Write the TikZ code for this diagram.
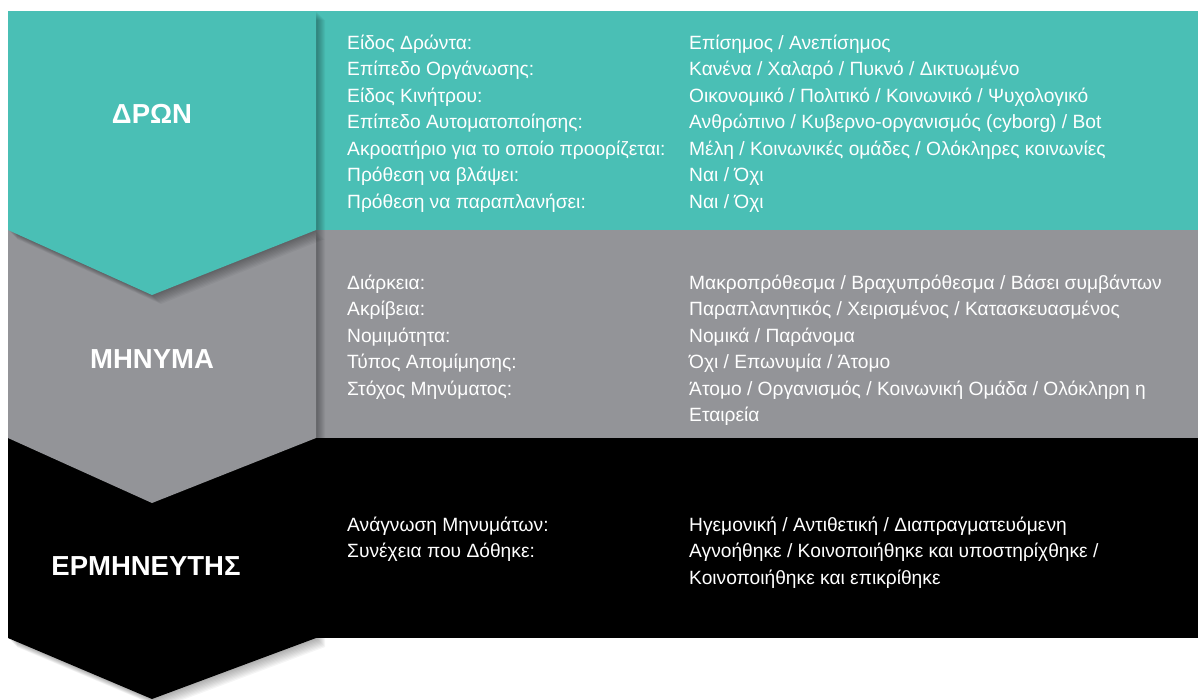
\documentclass[tikz,border=0pt]{standalone}
\usepackage{fontspec}
\setmainfont{Liberation Sans}
\usepackage{xcolor}
\usetikzlibrary{positioning, calc}

\definecolor{actorteal}{HTML}{4ABFB5}
\definecolor{msggrey}{HTML}{939498}
\definecolor{readerblack}{HTML}{000000}

\tikzset{
  bandtitle/.style={text=white, font=\fontsize{27.5}{32}\selectfont\bfseries, anchor=base, inner sep=0pt},
  rowkey/.style={text=white, font=\fontsize{19.2}{26.5}\selectfont, anchor=base west, inner sep=0pt},
  rowval/.style={rowkey},
  softshadow/.style={black, opacity=0.04},
}

\begin{document}
\begin{tikzpicture}[x=1pt, y=-1pt]
  \useasboundingbox (0,0) rectangle (1198,699);

  % right panels
  \fill[actorteal] (316,11) rectangle (1198,230);
  \fill[msggrey] (316,230) rectangle (1198,438);
  \fill[readerblack] (316,438) rectangle (1198,638);

  % chevrons, bottom one first
  \foreach \s in {1,...,9}
    \fill[softshadow, shift={(\s,\s)}] (8,438) -- (316,438) -- (316,638) -- (152,699) -- (8,638) -- cycle;
  \fill[readerblack] (8,438) -- (316,438) -- (316,638) -- (152,699) -- (8,638) -- cycle;

  \foreach \s in {1,...,9}
    \fill[softshadow, shift={(\s,\s)}] (8,230) -- (316,230) -- (316,438) -- (152,503) -- (8,438) -- cycle;
  \fill[msggrey] (8,230) -- (316,230) -- (316,438) -- (152,503) -- (8,438) -- cycle;

  \foreach \s in {1,...,9}
    \fill[softshadow, shift={(\s,\s)}] (8,11) -- (316,11) -- (316,230) -- (152,295) -- (8,230) -- cycle;
  \fill[actorteal] (8,11) -- (316,11) -- (316,230) -- (152,295) -- (8,230) -- cycle;

  % titles
  \node[bandtitle] (actor) at (152,123) {ΔΡΩΝ};
  \node[bandtitle] (message) at (152,368) {ΜΗΝΥΜΑ};
  \node[bandtitle] (reader) at (146,575) {ΕΡΜΗΝΕΥΤΗΣ};

  % actor rows
  \node[rowkey] (actork1) at (347,49.3) {Είδος Δρώντα:};
  \node[rowkey] (actork2) at (347,75.8) {Επίπεδο Οργάνωσης:};
  \node[rowkey] (actork3) at (347,102.3) {Είδος Κινήτρου:};
  \node[rowkey] (actork4) at (347,128.8) {Επίπεδο Αυτοματοποίησης:};
  \node[rowkey] (actork5) at (347,155.3) {Ακροατήριο για το οποίο προορίζεται:};
  \node[rowkey] (actork6) at (347,181.8) {Πρόθεση να βλάψει:};
  \node[rowkey] (actork7) at (347,208.3) {Πρόθεση να παραπλανήσει:};
  \node[rowval] (actorv1) at (689,49.3) {Επίσημος / Ανεπίσημος};
  \node[rowval] (actorv2) at (689,75.8) {Κανένα / Χαλαρό / Πυκνό / Δικτυωμένο};
  \node[rowval] (actorv3) at (689,102.3) {Οικονομικό / Πολιτικό / Κοινωνικό / Ψυχολογικό};
  \node[rowval] (actorv4) at (689,128.8) {Ανθρώπινο / Κυβερνο-οργανισμός (cyborg) / Bot};
  \node[rowval] (actorv5) at (689,155.3) {Μέλη / Κοινωνικές ομάδες / Ολόκληρες κοινωνίες};
  \node[rowval] (actorv6) at (689,181.8) {Ναι / Όχι};
  \node[rowval] (actorv7) at (689,208.3) {Ναι / Όχι};

  % message rows
  \node[rowkey] (msgk1) at (347,289.3) {Διάρκεια:};
  \node[rowkey] (msgk2) at (347,315.8) {Ακρίβεια:};
  \node[rowkey] (msgk3) at (347,342.3) {Νομιμότητα:};
  \node[rowkey] (msgk4) at (347,368.8) {Τύπος Απομίμησης:};
  \node[rowkey] (msgk5) at (347,395.3) {Στόχος Μηνύματος:};
  \node[rowval] (msgv1) at (689,289.3) {Μακροπρόθεσμα / Βραχυπρόθεσμα / Βάσει συμβάντων};
  \node[rowval] (msgv2) at (689,315.8) {Παραπλανητικός / Χειρισμένος / Κατασκευασμένος};
  \node[rowval] (msgv3) at (689,342.3) {Νομικά / Παράνομα};
  \node[rowval] (msgv4) at (689,368.8) {Όχι / Επωνυμία / Άτομο};
  \node[rowval] (msgv5) at (689,395.3) {Άτομο / Οργανισμός / Κοινωνική Ομάδα / Ολόκληρη η};
  \node[rowval] (msgv5b) at (689,421.8) {Εταιρεία};

  % reader rows
  \node[rowkey] (readk1) at (347,531) {Ανάγνωση Μηνυμάτων:};
  \node[rowkey] (readk2) at (347,557.5) {Συνέχεια που Δόθηκε:};
  \node[rowval] (readv1) at (689,531) {Ηγεμονική / Αντιθετική / Διαπραγματευόμενη};
  \node[rowval] (readv2) at (689,557.5) {Αγνοήθηκε / Κοινοποιήθηκε και υποστηρίχθηκε /};
  \node[rowval] (readv2b) at (689,584) {Κοινοποιήθηκε και επικρίθηκε};
\end{tikzpicture}
\end{document}
